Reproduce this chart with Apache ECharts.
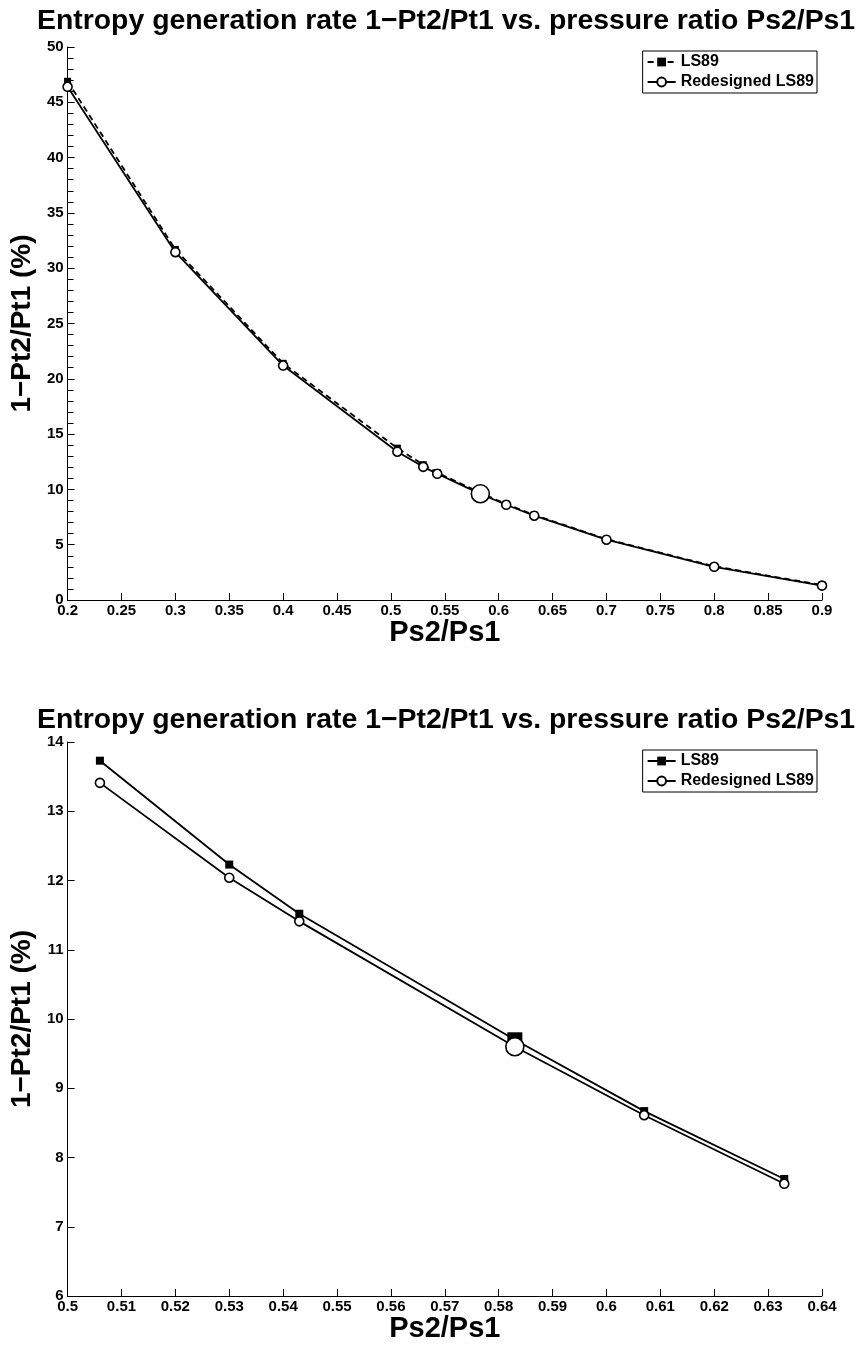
<!DOCTYPE html>
<html>
<head>
<meta charset="utf-8">
<script src="https://cdn.jsdelivr.net/npm/echarts@6/dist/echarts.min.js"></script>
<style>
  html, body { margin: 0; padding: 0; background: #fff; }
  #main { width: 861px; height: 1346px; }
</style>
</head>
<body>
<div id="main"></div>
<script>
// values
var ratioAll = [0.2, 0.3, 0.4, 0.506, 0.53, 0.543, 0.583, 0.607, 0.633, 0.7, 0.8, 0.9];
var ls89All = [46.9, 31.7, 21.4, 13.73, 12.23, 11.52, 9.7, 8.67, 7.69, 5.5, 3.05, 1.35];
var redesignedAll = [46.4, 31.45, 21.2, 13.41, 12.04, 11.41, 9.6, 8.61, 7.62, 5.45, 3.0, 1.3];
var ratioZoom = [0.506, 0.53, 0.543, 0.583, 0.607, 0.633];
var ls89Zoom = [13.73, 12.23, 11.52, 9.7, 8.67, 7.69];
var redesignedZoom = [13.41, 12.04, 11.41, 9.6, 8.61, 7.62];
var designPoint = 0.583;

var titleText = 'Entropy generation rate 1\u2212Pt2/Pt1 vs. pressure ratio Ps2/Ps1';
var yName = '1\u2212Pt2/Pt1 (%)';
var xName = 'Ps2/Ps1';
var font = '"Liberation Sans", Arial, Helvetica, sans-serif';

function pairs(xs, ys, big) {
  return xs.map(function (x, i) {
    var item = { value: [x, ys[i]] };
    if (x === designPoint) item.symbolSize = big;
    return item;
  });
}

function xAxis(idx, min, max, step) {
  return {
    type: 'value', gridIndex: idx, min: min, max: max, interval: step,
    name: xName, nameLocation: 'middle', nameGap: 13,
    nameTextStyle: { fontFamily: font, fontWeight: 'bold', fontSize: 29, color: '#000' },
    axisLine: { onZero: false, lineStyle: { color: '#000', width: 1 } },
    axisTick: { inside: true, length: 7, lineStyle: { color: '#000' } },
    axisLabel: { margin: 3, fontFamily: font, fontWeight: 'bold', fontSize: 15, color: '#000' },
    splitLine: { show: false }
  };
}

function yAxis(idx, min, max, step, minor) {
  return {
    type: 'value', gridIndex: idx, min: min, max: max, interval: step,
    name: yName, nameLocation: 'middle', nameGap: 24,
    nameTextStyle: { fontFamily: font, fontWeight: 'bold', fontSize: 28, color: '#000' },
    axisLine: { show: true, onZero: false, lineStyle: { color: '#000', width: 1 } },
    axisTick: { show: true, inside: true, length: 7, lineStyle: { color: '#000' } },
    minorTick: { show: minor, splitNumber: 5, length: 6, lineStyle: { color: '#000' } },
    axisLabel: { margin: 4, fontFamily: font, fontWeight: 'bold', fontSize: 15, color: '#000' },
    splitLine: { show: false }
  };
}

var squareStyle = { color: '#000', borderColor: '#000', borderWidth: 0 };
var circleStyle = { color: '#fff', borderColor: '#000', borderWidth: 1.6 };

function legend(top) {
  return {
    orient: 'vertical', right: 44, top: top,
    backgroundColor: '#fff', borderColor: '#000', borderWidth: 1,
    padding: [3, 3, 3, 4], itemGap: 4, itemWidth: 28, itemHeight: 11,
    textStyle: { fontFamily: font, fontWeight: 'bold', fontSize: 16, color: '#000' },
    selectedMode: false
  };
}

var topLegend = legend(51);
topLegend.data = ['LS89', 'Redesigned LS89'];
var bottomLegend = legend(750);
bottomLegend.data = [{ name: 'LS89', lineStyle: { type: 'solid' } }, 'Redesigned LS89'];

var titleStyle = { fontFamily: font, fontWeight: 'bold', fontSize: 28.4, color: '#000' };

var chart = echarts.init(document.getElementById('main'));
chart.setOption({
  backgroundColor: '#fff',
  animation: false,
  title: [
    { text: titleText, left: 32, top: 2, textStyle: titleStyle },
    { text: titleText, left: 32, top: 701, textStyle: titleStyle }
  ],
  legend: [topLegend, bottomLegend],
  grid: [
    { left: 67, right: 39, top: 47, height: 553 },
    { left: 67, right: 39, top: 742, height: 554 }
  ],
  xAxis: [xAxis(0, 0.2, 0.9, 0.05), xAxis(1, 0.5, 0.64, 0.01)],
  yAxis: [yAxis(0, 0, 50, 5, true), yAxis(1, 6, 14, 1, false)],
  series: [
    {
      name: 'LS89', type: 'line', xAxisIndex: 0, yAxisIndex: 0,
      data: pairs(ratioAll, ls89All, 12),
      symbol: 'rect', symbolSize: 7, showAllSymbol: true,
      lineStyle: { color: '#000', width: 1.8, type: [6, 4] },
      itemStyle: squareStyle, z: 2
    },
    {
      name: 'Redesigned LS89', type: 'line', xAxisIndex: 0, yAxisIndex: 0,
      data: pairs(ratioAll, redesignedAll, 18),
      symbol: 'circle', symbolSize: 9, showAllSymbol: true,
      lineStyle: { color: '#000', width: 1.8 },
      itemStyle: circleStyle, z: 3
    },
    {
      name: 'LS89', type: 'line', xAxisIndex: 1, yAxisIndex: 1,
      data: pairs(ratioZoom, ls89Zoom, 15),
      symbol: 'rect', symbolSize: 8, showAllSymbol: true,
      lineStyle: { color: '#000', width: 1.8 },
      itemStyle: squareStyle, z: 2
    },
    {
      name: 'Redesigned LS89', type: 'line', xAxisIndex: 1, yAxisIndex: 1,
      data: pairs(ratioZoom, redesignedZoom, 18),
      symbol: 'circle', symbolSize: 9, showAllSymbol: true,
      lineStyle: { color: '#000', width: 1.8 },
      itemStyle: circleStyle, z: 3
    }
  ]
});
</script>
</body>
</html>
